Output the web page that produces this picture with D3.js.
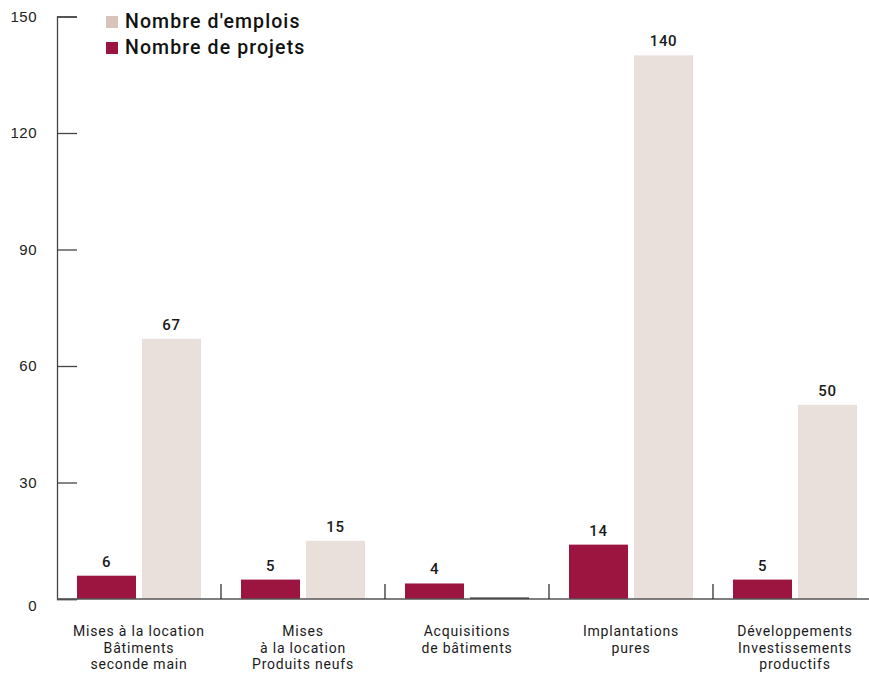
<!DOCTYPE html>
<html>
<head>
<meta charset="utf-8">
<script src="https://cdn.jsdelivr.net/npm/d3@7"></script>
<style>
  body { margin: 0; background: #fff; }
  svg { display: block; font-family: Roboto, "DejaVu Sans", sans-serif; }
</style>
</head>
<body>
<div id="chart"></div>
<script>
// data
var categories = [
  ["Mises à la location", "Bâtiments", "seconde main"],
  ["Mises", "à la location", "Produits neufs"],
  ["Acquisitions", "de bâtiments"],
  ["Implantations", "pures"],
  ["Développements", "Investissements", "productifs"]
];
var projets = [6, 5, 4, 14, 5];
var emplois = [67, 15, 0, 140, 50];
var yTicks = [0, 30, 60, 90, 120, 150];
var series = [
  { key: "projets", name: "Nombre de projets", values: projets },
  { key: "emplois", name: "Nombre d'emplois", values: emplois }
];
var legendOrder = ["emplois", "projets"];

var width = 869, height = 673;
var colors = { projets: "#9b1540", emplois: "#e9dfdb" };
var legendColors = { projets: "#9b1540", emplois: "#d9c4bc" };

var svg = d3.select("#chart")
  .append("svg")
  .attr("width", width)
  .attr("height", height);

var x0 = d3.scaleBand()
  .domain(d3.range(categories.length))
  .range([57, 877])
  .padding(0);

var x1 = d3.scaleBand()
  .domain(series.map(s => s.key))
  .range([20, x0.bandwidth() - 20])
  .paddingInner(6 / 65)
  .paddingOuter(0);

var y = d3.scaleLinear()
  .domain([0, 150])
  .range([599, 16.5]);

// y axis, ticks pointing inward
var yAxis = d3.axisLeft(y)
  .tickValues(yTicks)
  .tickSize(-20)
  .tickPadding(20);

var gy = svg.append("g")
  .attr("transform", "translate(57,0)")
  .call(yAxis);
gy.selectAll("path, line").attr("stroke", "#444").attr("stroke-width", 1.3);
gy.selectAll("text")
  .style("font-size", "15px")
  .style("letter-spacing", "0.5px")
  .attr("fill", "#222")
  .attr("dy", (d) => d === 0 ? "0.75em" : "0.32em");

// bars
var groups = svg.selectAll("g.cat")
  .data(categories)
  .enter()
  .append("g")
  .attr("class", "cat")
  .attr("transform", (d, i) => "translate(" + x0(i) + ",0)");

groups.selectAll("rect")
  .data((d, i) => series.map(s => ({ key: s.key, value: s.values[i] })))
  .enter()
  .append("rect")
  .attr("x", (d) => x1(d.key))
  .attr("y", (d) => d.value === 0 ? y(0) - 1.5 : y(d.value))
  .attr("width", x1.bandwidth())
  .attr("height", (d) => d.value === 0 ? 1.5 : y(0) - y(d.value))
  .attr("fill", (d) => d.value === 0 ? "#222" : colors[d.key]);

groups.selectAll("text.val")
  .data((d, i) => series.map(s => ({ key: s.key, value: s.values[i] })).filter(d => d.value > 0))
  .enter()
  .append("text")
  .attr("class", "val")
  .attr("x", (d) => x1(d.key) + x1.bandwidth() / 2)
  .attr("y", (d) => y(d.value) - 9)
  .attr("text-anchor", "middle")
  .style("font-size", "15px")
  .style("font-weight", 500)
  .style("letter-spacing", "0.6px")
  .attr("fill", "#1a1a1a")
  .text((d) => d.value);

// x baseline and separators
svg.append("line")
  .attr("x1", 57).attr("x2", width)
  .attr("y1", y(0)).attr("y2", y(0))
  .attr("stroke", "#555").attr("stroke-width", 1.5);

svg.selectAll("line.sep")
  .data(d3.range(1, categories.length))
  .enter()
  .append("line")
  .attr("class", "sep")
  .attr("x1", (d) => x0(d)).attr("x2", (d) => x0(d))
  .attr("y1", y(0)).attr("y2", y(0) - 15)
  .attr("stroke", "#333").attr("stroke-width", 1.3);

// category labels
var labels = svg.selectAll("text.cat")
  .data(categories)
  .enter()
  .append("text")
  .attr("class", "cat")
  .attr("text-anchor", "middle")
  .style("font-size", "14px")
  .style("letter-spacing", "0.8px")
  .attr("fill", "#1a1a1a");

labels.selectAll("tspan")
  .data((d, i) => d.map(l => ({ line: l, i: i })))
  .enter()
  .append("tspan")
  .attr("x", (d) => x0(d.i) + x1(series[0].key) + x1.step() - 3)
  .attr("y", (d, j) => 636 + j * 16.5)
  .text((d) => d.line);

// legend
var legend = svg.selectAll("g.legend")
  .data(legendOrder)
  .enter()
  .append("g")
  .attr("class", "legend")
  .attr("transform", (d, i) => "translate(106," + (16 + i * 26) + ")");

legend.append("rect")
  .attr("width", 12).attr("height", 12)
  .attr("fill", (d) => legendColors[d]);

legend.append("text")
  .attr("x", 19)
  .attr("y", 12)
  .style("font-size", "19.5px")
  .style("font-weight", 500)
  .style("letter-spacing", "1.1px")
  .attr("fill", "#111")
  .text((d) => series.find(s => s.key === d).name);
</script>
</body>
</html>
